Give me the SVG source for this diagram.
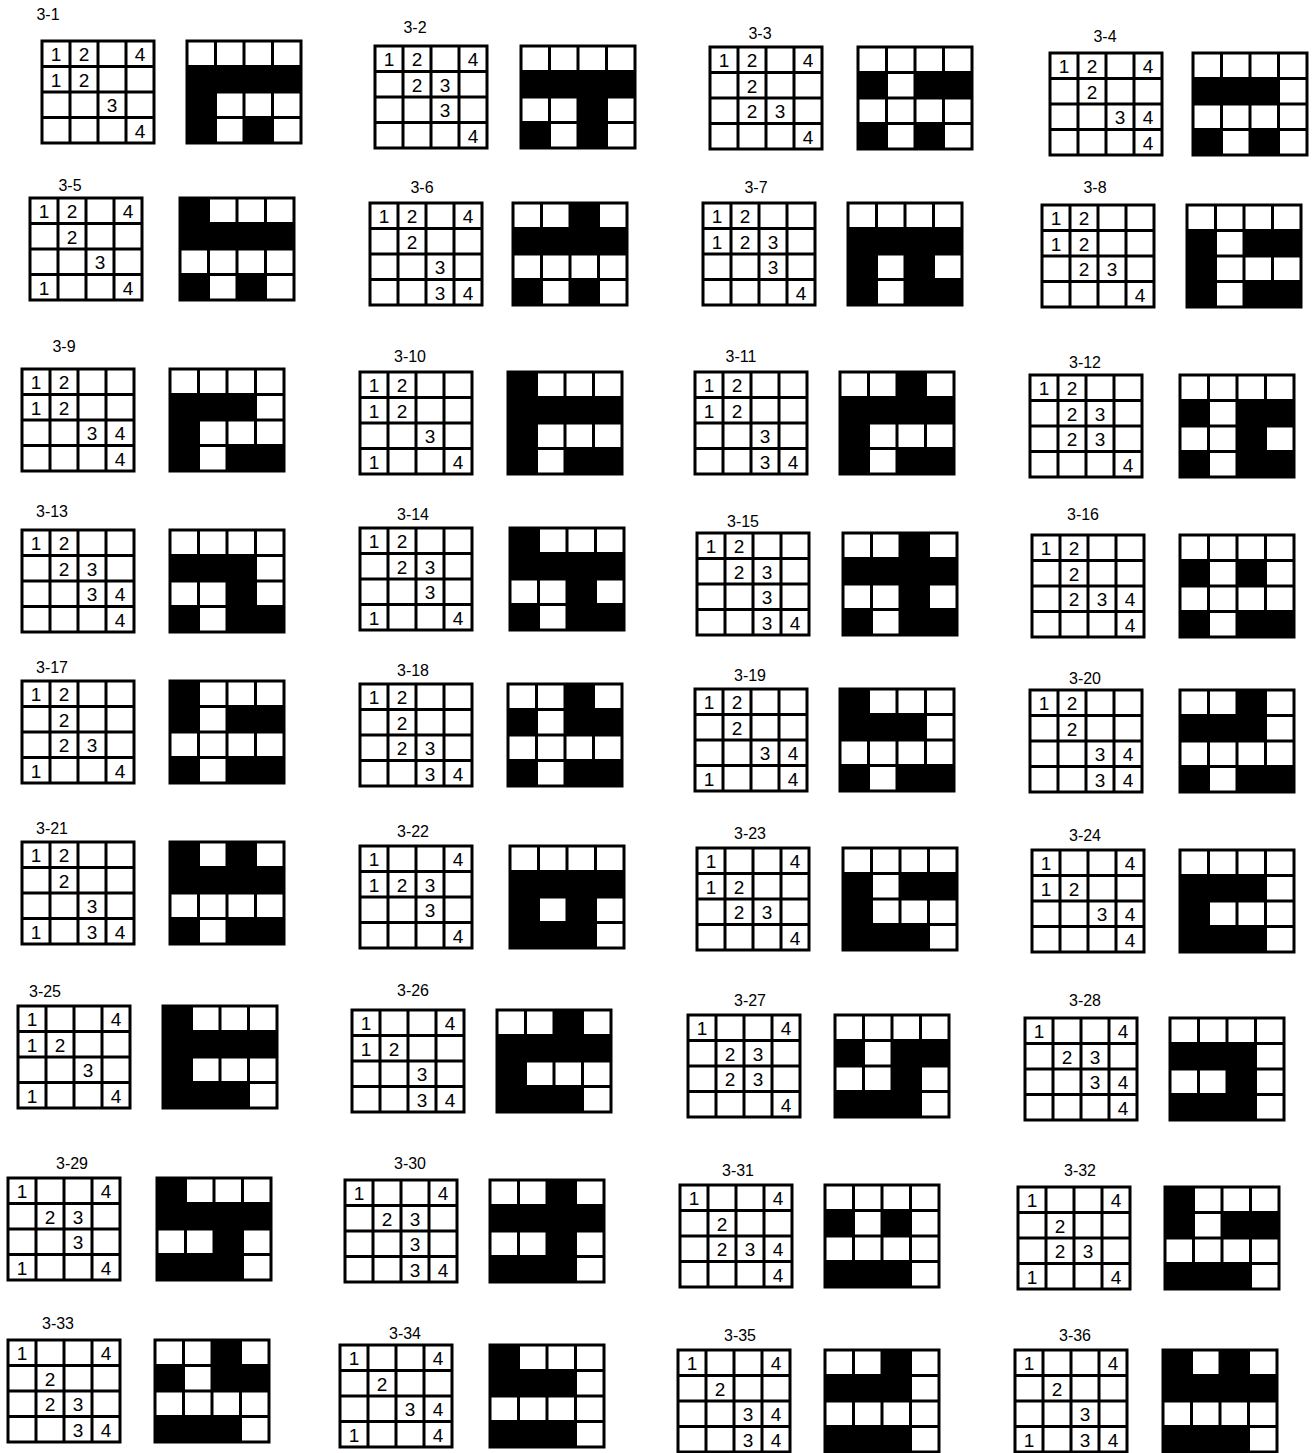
<svg xmlns="http://www.w3.org/2000/svg" xmlns:xlink="http://www.w3.org/1999/xlink" width="1315" height="1453" viewBox="0 0 1315 1453">
<style>
.l{font-family:"Liberation Sans",Arial,sans-serif;font-size:16px;text-anchor:middle;fill:#000}
.n text{font-family:"Liberation Sans",Arial,sans-serif;font-size:19px;text-anchor:middle;fill:#000}
.g{fill:none;stroke:#000;stroke-width:3;stroke-linecap:square}
.k{fill:#000}
</style>
<defs>
<path id="cg" class="g" d="M0 0h112v102h-112z M28 0v102 M56 0v102 M84 0v102 M0 25.5h112 M0 51h112 M0 76.5h112"/>
<path id="sg" class="g" d="M0 0h114v102h-114z M28.5 0v102 M57 0v102 M85.5 0v102 M0 25.5h114 M0 51h114 M0 76.5h114"/>
<path id="rF" class="k" d="M0 0h114v25.5h-114z"/>
<path id="rBBBW" class="k" d="M0 0h85.5v25.5h-85.5z"/>
<path id="rBWBB" class="k" d="M0 0h28.5v25.5h-28.5z M57 0h57v25.5h-57z"/>
<path id="rBWBW" class="k" d="M0 0h28.5v25.5h-28.5z M57 0h28.5v25.5h-28.5z"/>
<path id="rBWWW" class="k" d="M0 0h28.5v25.5h-28.5z"/>
<path id="rWWBW" class="k" d="M57 0h28.5v25.5h-28.5z"/>
</defs>
<rect width="1315" height="1453" fill="#fff"/>

<g id="p3-1"><text class="l" x="48" y="20">3-1</text>
<g class="n" transform="translate(42,41)"><use href="#cg"/><text x="14" y="20">1</text><text x="42" y="20">2</text><text x="98" y="20">4</text><text x="14" y="45.5">1</text><text x="42" y="45.5">2</text><text x="70" y="71">3</text><text x="98" y="96.5">4</text></g>
<g transform="translate(187,41)"><use href="#rF" y="25.5"/><use href="#rBWWW" y="51"/><use href="#rBWBW" y="76.5"/><use href="#sg"/></g></g>

<g id="p3-2"><text class="l" x="415" y="33">3-2</text>
<g class="n" transform="translate(375,46)"><use href="#cg"/><text x="14" y="20">1</text><text x="42" y="20">2</text><text x="98" y="20">4</text><text x="42" y="45.5">2</text><text x="70" y="45.5">3</text><text x="70" y="71">3</text><text x="98" y="96.5">4</text></g>
<g transform="translate(521,46)"><use href="#rF" y="25.5"/><use href="#rWWBW" y="51"/><use href="#rBWBW" y="76.5"/><use href="#sg"/></g></g>

<g id="p3-3"><text class="l" x="760" y="39">3-3</text>
<g class="n" transform="translate(710,47)"><use href="#cg"/><text x="14" y="20">1</text><text x="42" y="20">2</text><text x="98" y="20">4</text><text x="42" y="45.5">2</text><text x="42" y="71">2</text><text x="70" y="71">3</text><text x="98" y="96.5">4</text></g>
<g transform="translate(858,47)"><use href="#rBWBB" y="25.5"/><use href="#rBWBW" y="76.5"/><use href="#sg"/></g></g>

<g id="p3-4"><text class="l" x="1105" y="42">3-4</text>
<g class="n" transform="translate(1050,53)"><use href="#cg"/><text x="14" y="20">1</text><text x="42" y="20">2</text><text x="98" y="20">4</text><text x="42" y="45.5">2</text><text x="70" y="71">3</text><text x="98" y="71">4</text><text x="98" y="96.5">4</text></g>
<g transform="translate(1193,53)"><use href="#rBBBW" y="25.5"/><use href="#rBWBW" y="76.5"/><use href="#sg"/></g></g>

<g id="p3-5"><text class="l" x="70" y="191">3-5</text>
<g class="n" transform="translate(30,198)"><use href="#cg"/><text x="14" y="20">1</text><text x="42" y="20">2</text><text x="98" y="20">4</text><text x="42" y="45.5">2</text><text x="70" y="71">3</text><text x="14" y="96.5">1</text><text x="98" y="96.5">4</text></g>
<g transform="translate(180,198)"><use href="#rBWWW" y="0"/><use href="#rF" y="25.5"/><use href="#rBWBW" y="76.5"/><use href="#sg"/></g></g>

<g id="p3-6"><text class="l" x="422" y="193">3-6</text>
<g class="n" transform="translate(370,203)"><use href="#cg"/><text x="14" y="20">1</text><text x="42" y="20">2</text><text x="98" y="20">4</text><text x="42" y="45.5">2</text><text x="70" y="71">3</text><text x="70" y="96.5">3</text><text x="98" y="96.5">4</text></g>
<g transform="translate(513,203)"><use href="#rWWBW" y="0"/><use href="#rF" y="25.5"/><use href="#rBWBW" y="76.5"/><use href="#sg"/></g></g>

<g id="p3-7"><text class="l" x="756" y="193">3-7</text>
<g class="n" transform="translate(703,203)"><use href="#cg"/><text x="14" y="20">1</text><text x="42" y="20">2</text><text x="14" y="45.5">1</text><text x="42" y="45.5">2</text><text x="70" y="45.5">3</text><text x="70" y="71">3</text><text x="98" y="96.5">4</text></g>
<g transform="translate(848,203)"><use href="#rF" y="25.5"/><use href="#rBWBW" y="51"/><use href="#rBWBB" y="76.5"/><use href="#sg"/></g></g>

<g id="p3-8"><text class="l" x="1095" y="193">3-8</text>
<g class="n" transform="translate(1042,205)"><use href="#cg"/><text x="14" y="20">1</text><text x="42" y="20">2</text><text x="14" y="45.5">1</text><text x="42" y="45.5">2</text><text x="42" y="71">2</text><text x="70" y="71">3</text><text x="98" y="96.5">4</text></g>
<g transform="translate(1187,205)"><use href="#rBWBB" y="25.5"/><use href="#rBWWW" y="51"/><use href="#rBWBB" y="76.5"/><use href="#sg"/></g></g>

<g id="p3-9"><text class="l" x="64" y="352">3-9</text>
<g class="n" transform="translate(22,369)"><use href="#cg"/><text x="14" y="20">1</text><text x="42" y="20">2</text><text x="14" y="45.5">1</text><text x="42" y="45.5">2</text><text x="70" y="71">3</text><text x="98" y="71">4</text><text x="98" y="96.5">4</text></g>
<g transform="translate(170,369)"><use href="#rBBBW" y="25.5"/><use href="#rBWWW" y="51"/><use href="#rBWBB" y="76.5"/><use href="#sg"/></g></g>

<g id="p3-10"><text class="l" x="410" y="362">3-10</text>
<g class="n" transform="translate(360,372)"><use href="#cg"/><text x="14" y="20">1</text><text x="42" y="20">2</text><text x="14" y="45.5">1</text><text x="42" y="45.5">2</text><text x="70" y="71">3</text><text x="14" y="96.5">1</text><text x="98" y="96.5">4</text></g>
<g transform="translate(508,372)"><use href="#rBWWW" y="0"/><use href="#rF" y="25.5"/><use href="#rBWWW" y="51"/><use href="#rBWBB" y="76.5"/><use href="#sg"/></g></g>

<g id="p3-11"><text class="l" x="741" y="362">3-11</text>
<g class="n" transform="translate(695,372)"><use href="#cg"/><text x="14" y="20">1</text><text x="42" y="20">2</text><text x="14" y="45.5">1</text><text x="42" y="45.5">2</text><text x="70" y="71">3</text><text x="70" y="96.5">3</text><text x="98" y="96.5">4</text></g>
<g transform="translate(840,372)"><use href="#rWWBW" y="0"/><use href="#rF" y="25.5"/><use href="#rBWWW" y="51"/><use href="#rBWBB" y="76.5"/><use href="#sg"/></g></g>

<g id="p3-12"><text class="l" x="1085" y="368">3-12</text>
<g class="n" transform="translate(1030,375)"><use href="#cg"/><text x="14" y="20">1</text><text x="42" y="20">2</text><text x="42" y="45.5">2</text><text x="70" y="45.5">3</text><text x="42" y="71">2</text><text x="70" y="71">3</text><text x="98" y="96.5">4</text></g>
<g transform="translate(1180,375)"><use href="#rBWBB" y="25.5"/><use href="#rWWBW" y="51"/><use href="#rBWBB" y="76.5"/><use href="#sg"/></g></g>

<g id="p3-13"><text class="l" x="52" y="517">3-13</text>
<g class="n" transform="translate(22,530)"><use href="#cg"/><text x="14" y="20">1</text><text x="42" y="20">2</text><text x="42" y="45.5">2</text><text x="70" y="45.5">3</text><text x="70" y="71">3</text><text x="98" y="71">4</text><text x="98" y="96.5">4</text></g>
<g transform="translate(170,530)"><use href="#rBBBW" y="25.5"/><use href="#rWWBW" y="51"/><use href="#rBWBB" y="76.5"/><use href="#sg"/></g></g>

<g id="p3-14"><text class="l" x="413" y="520">3-14</text>
<g class="n" transform="translate(360,528)"><use href="#cg"/><text x="14" y="20">1</text><text x="42" y="20">2</text><text x="42" y="45.5">2</text><text x="70" y="45.5">3</text><text x="70" y="71">3</text><text x="14" y="96.5">1</text><text x="98" y="96.5">4</text></g>
<g transform="translate(510,528)"><use href="#rBWWW" y="0"/><use href="#rF" y="25.5"/><use href="#rWWBW" y="51"/><use href="#rBWBB" y="76.5"/><use href="#sg"/></g></g>

<g id="p3-15"><text class="l" x="743" y="527">3-15</text>
<g class="n" transform="translate(697,533)"><use href="#cg"/><text x="14" y="20">1</text><text x="42" y="20">2</text><text x="42" y="45.5">2</text><text x="70" y="45.5">3</text><text x="70" y="71">3</text><text x="70" y="96.5">3</text><text x="98" y="96.5">4</text></g>
<g transform="translate(843,533)"><use href="#rWWBW" y="0"/><use href="#rF" y="25.5"/><use href="#rWWBW" y="51"/><use href="#rBWBB" y="76.5"/><use href="#sg"/></g></g>

<g id="p3-16"><text class="l" x="1083" y="520">3-16</text>
<g class="n" transform="translate(1032,535)"><use href="#cg"/><text x="14" y="20">1</text><text x="42" y="20">2</text><text x="42" y="45.5">2</text><text x="42" y="71">2</text><text x="70" y="71">3</text><text x="98" y="71">4</text><text x="98" y="96.5">4</text></g>
<g transform="translate(1180,535)"><use href="#rBWBW" y="25.5"/><use href="#rBWBB" y="76.5"/><use href="#sg"/></g></g>

<g id="p3-17"><text class="l" x="52" y="673">3-17</text>
<g class="n" transform="translate(22,681)"><use href="#cg"/><text x="14" y="20">1</text><text x="42" y="20">2</text><text x="42" y="45.5">2</text><text x="42" y="71">2</text><text x="70" y="71">3</text><text x="14" y="96.5">1</text><text x="98" y="96.5">4</text></g>
<g transform="translate(170,681)"><use href="#rBWWW" y="0"/><use href="#rBWBB" y="25.5"/><use href="#rBWBB" y="76.5"/><use href="#sg"/></g></g>

<g id="p3-18"><text class="l" x="413" y="676">3-18</text>
<g class="n" transform="translate(360,684)"><use href="#cg"/><text x="14" y="20">1</text><text x="42" y="20">2</text><text x="42" y="45.5">2</text><text x="42" y="71">2</text><text x="70" y="71">3</text><text x="70" y="96.5">3</text><text x="98" y="96.5">4</text></g>
<g transform="translate(508,684)"><use href="#rWWBW" y="0"/><use href="#rBWBB" y="25.5"/><use href="#rBWBB" y="76.5"/><use href="#sg"/></g></g>

<g id="p3-19"><text class="l" x="750" y="681">3-19</text>
<g class="n" transform="translate(695,689)"><use href="#cg"/><text x="14" y="20">1</text><text x="42" y="20">2</text><text x="42" y="45.5">2</text><text x="70" y="71">3</text><text x="98" y="71">4</text><text x="14" y="96.5">1</text><text x="98" y="96.5">4</text></g>
<g transform="translate(840,689)"><use href="#rBWWW" y="0"/><use href="#rBBBW" y="25.5"/><use href="#rBWBB" y="76.5"/><use href="#sg"/></g></g>

<g id="p3-20"><text class="l" x="1085" y="684">3-20</text>
<g class="n" transform="translate(1030,690)"><use href="#cg"/><text x="14" y="20">1</text><text x="42" y="20">2</text><text x="42" y="45.5">2</text><text x="70" y="71">3</text><text x="98" y="71">4</text><text x="70" y="96.5">3</text><text x="98" y="96.5">4</text></g>
<g transform="translate(1180,690)"><use href="#rWWBW" y="0"/><use href="#rBBBW" y="25.5"/><use href="#rBWBB" y="76.5"/><use href="#sg"/></g></g>

<g id="p3-21"><text class="l" x="52" y="834">3-21</text>
<g class="n" transform="translate(22,842)"><use href="#cg"/><text x="14" y="20">1</text><text x="42" y="20">2</text><text x="42" y="45.5">2</text><text x="70" y="71">3</text><text x="14" y="96.5">1</text><text x="70" y="96.5">3</text><text x="98" y="96.5">4</text></g>
<g transform="translate(170,842)"><use href="#rBWBW" y="0"/><use href="#rF" y="25.5"/><use href="#rBWBB" y="76.5"/><use href="#sg"/></g></g>

<g id="p3-22"><text class="l" x="413" y="837">3-22</text>
<g class="n" transform="translate(360,846)"><use href="#cg"/><text x="14" y="20">1</text><text x="98" y="20">4</text><text x="14" y="45.5">1</text><text x="42" y="45.5">2</text><text x="70" y="45.5">3</text><text x="70" y="71">3</text><text x="98" y="96.5">4</text></g>
<g transform="translate(510,846)"><use href="#rF" y="25.5"/><use href="#rBWBW" y="51"/><use href="#rBBBW" y="76.5"/><use href="#sg"/></g></g>

<g id="p3-23"><text class="l" x="750" y="839">3-23</text>
<g class="n" transform="translate(697,848)"><use href="#cg"/><text x="14" y="20">1</text><text x="98" y="20">4</text><text x="14" y="45.5">1</text><text x="42" y="45.5">2</text><text x="42" y="71">2</text><text x="70" y="71">3</text><text x="98" y="96.5">4</text></g>
<g transform="translate(843,848)"><use href="#rBWBB" y="25.5"/><use href="#rBWWW" y="51"/><use href="#rBBBW" y="76.5"/><use href="#sg"/></g></g>

<g id="p3-24"><text class="l" x="1085" y="841">3-24</text>
<g class="n" transform="translate(1032,850)"><use href="#cg"/><text x="14" y="20">1</text><text x="98" y="20">4</text><text x="14" y="45.5">1</text><text x="42" y="45.5">2</text><text x="70" y="71">3</text><text x="98" y="71">4</text><text x="98" y="96.5">4</text></g>
<g transform="translate(1180,850)"><use href="#rBBBW" y="25.5"/><use href="#rBWWW" y="51"/><use href="#rBBBW" y="76.5"/><use href="#sg"/></g></g>

<g id="p3-25"><text class="l" x="45" y="997">3-25</text>
<g class="n" transform="translate(18,1006)"><use href="#cg"/><text x="14" y="20">1</text><text x="98" y="20">4</text><text x="14" y="45.5">1</text><text x="42" y="45.5">2</text><text x="70" y="71">3</text><text x="14" y="96.5">1</text><text x="98" y="96.5">4</text></g>
<g transform="translate(163,1006)"><use href="#rBWWW" y="0"/><use href="#rF" y="25.5"/><use href="#rBWWW" y="51"/><use href="#rBBBW" y="76.5"/><use href="#sg"/></g></g>

<g id="p3-26"><text class="l" x="413" y="996">3-26</text>
<g class="n" transform="translate(352,1010)"><use href="#cg"/><text x="14" y="20">1</text><text x="98" y="20">4</text><text x="14" y="45.5">1</text><text x="42" y="45.5">2</text><text x="70" y="71">3</text><text x="70" y="96.5">3</text><text x="98" y="96.5">4</text></g>
<g transform="translate(497,1010)"><use href="#rWWBW" y="0"/><use href="#rF" y="25.5"/><use href="#rBWWW" y="51"/><use href="#rBBBW" y="76.5"/><use href="#sg"/></g></g>

<g id="p3-27"><text class="l" x="750" y="1006">3-27</text>
<g class="n" transform="translate(688,1015)"><use href="#cg"/><text x="14" y="20">1</text><text x="98" y="20">4</text><text x="42" y="45.5">2</text><text x="70" y="45.5">3</text><text x="42" y="71">2</text><text x="70" y="71">3</text><text x="98" y="96.5">4</text></g>
<g transform="translate(835,1015)"><use href="#rBWBB" y="25.5"/><use href="#rWWBW" y="51"/><use href="#rBBBW" y="76.5"/><use href="#sg"/></g></g>

<g id="p3-28"><text class="l" x="1085" y="1006">3-28</text>
<g class="n" transform="translate(1025,1018)"><use href="#cg"/><text x="14" y="20">1</text><text x="98" y="20">4</text><text x="42" y="45.5">2</text><text x="70" y="45.5">3</text><text x="70" y="71">3</text><text x="98" y="71">4</text><text x="98" y="96.5">4</text></g>
<g transform="translate(1170,1018)"><use href="#rBBBW" y="25.5"/><use href="#rWWBW" y="51"/><use href="#rBBBW" y="76.5"/><use href="#sg"/></g></g>

<g id="p3-29"><text class="l" x="72" y="1169">3-29</text>
<g class="n" transform="translate(8,1178)"><use href="#cg"/><text x="14" y="20">1</text><text x="98" y="20">4</text><text x="42" y="45.5">2</text><text x="70" y="45.5">3</text><text x="70" y="71">3</text><text x="14" y="96.5">1</text><text x="98" y="96.5">4</text></g>
<g transform="translate(157,1178)"><use href="#rBWWW" y="0"/><use href="#rF" y="25.5"/><use href="#rWWBW" y="51"/><use href="#rBBBW" y="76.5"/><use href="#sg"/></g></g>

<g id="p3-30"><text class="l" x="410" y="1169">3-30</text>
<g class="n" transform="translate(345,1180)"><use href="#cg"/><text x="14" y="20">1</text><text x="98" y="20">4</text><text x="42" y="45.5">2</text><text x="70" y="45.5">3</text><text x="70" y="71">3</text><text x="70" y="96.5">3</text><text x="98" y="96.5">4</text></g>
<g transform="translate(490,1180)"><use href="#rWWBW" y="0"/><use href="#rF" y="25.5"/><use href="#rWWBW" y="51"/><use href="#rBBBW" y="76.5"/><use href="#sg"/></g></g>

<g id="p3-31"><text class="l" x="738" y="1176">3-31</text>
<g class="n" transform="translate(680,1185)"><use href="#cg"/><text x="14" y="20">1</text><text x="98" y="20">4</text><text x="42" y="45.5">2</text><text x="42" y="71">2</text><text x="70" y="71">3</text><text x="98" y="71">4</text><text x="98" y="96.5">4</text></g>
<g transform="translate(825,1185)"><use href="#rBWBW" y="25.5"/><use href="#rBBBW" y="76.5"/><use href="#sg"/></g></g>

<g id="p3-32"><text class="l" x="1080" y="1176">3-32</text>
<g class="n" transform="translate(1018,1187)"><use href="#cg"/><text x="14" y="20">1</text><text x="98" y="20">4</text><text x="42" y="45.5">2</text><text x="42" y="71">2</text><text x="70" y="71">3</text><text x="14" y="96.5">1</text><text x="98" y="96.5">4</text></g>
<g transform="translate(1165,1187)"><use href="#rBWWW" y="0"/><use href="#rBWBB" y="25.5"/><use href="#rBBBW" y="76.5"/><use href="#sg"/></g></g>

<g id="p3-33"><text class="l" x="58" y="1329">3-33</text>
<g class="n" transform="translate(8,1340)"><use href="#cg"/><text x="14" y="20">1</text><text x="98" y="20">4</text><text x="42" y="45.5">2</text><text x="42" y="71">2</text><text x="70" y="71">3</text><text x="70" y="96.5">3</text><text x="98" y="96.5">4</text></g>
<g transform="translate(155,1340)"><use href="#rWWBW" y="0"/><use href="#rBWBB" y="25.5"/><use href="#rBBBW" y="76.5"/><use href="#sg"/></g></g>

<g id="p3-34"><text class="l" x="405" y="1339">3-34</text>
<g class="n" transform="translate(340,1345)"><use href="#cg"/><text x="14" y="20">1</text><text x="98" y="20">4</text><text x="42" y="45.5">2</text><text x="70" y="71">3</text><text x="98" y="71">4</text><text x="14" y="96.5">1</text><text x="98" y="96.5">4</text></g>
<g transform="translate(490,1345)"><use href="#rBWWW" y="0"/><use href="#rBBBW" y="25.5"/><use href="#rBBBW" y="76.5"/><use href="#sg"/></g></g>

<g id="p3-35"><text class="l" x="740" y="1341">3-35</text>
<g class="n" transform="translate(678,1350)"><use href="#cg"/><text x="14" y="20">1</text><text x="98" y="20">4</text><text x="42" y="45.5">2</text><text x="70" y="71">3</text><text x="98" y="71">4</text><text x="70" y="96.5">3</text><text x="98" y="96.5">4</text></g>
<g transform="translate(825,1350)"><use href="#rWWBW" y="0"/><use href="#rBBBW" y="25.5"/><use href="#rBBBW" y="76.5"/><use href="#sg"/></g></g>

<g id="p3-36"><text class="l" x="1075" y="1341">3-36</text>
<g class="n" transform="translate(1015,1350)"><use href="#cg"/><text x="14" y="20">1</text><text x="98" y="20">4</text><text x="42" y="45.5">2</text><text x="70" y="71">3</text><text x="14" y="96.5">1</text><text x="70" y="96.5">3</text><text x="98" y="96.5">4</text></g>
<g transform="translate(1163,1350)"><use href="#rBWBW" y="0"/><use href="#rF" y="25.5"/><use href="#rBBBW" y="76.5"/><use href="#sg"/></g></g>
</svg>
